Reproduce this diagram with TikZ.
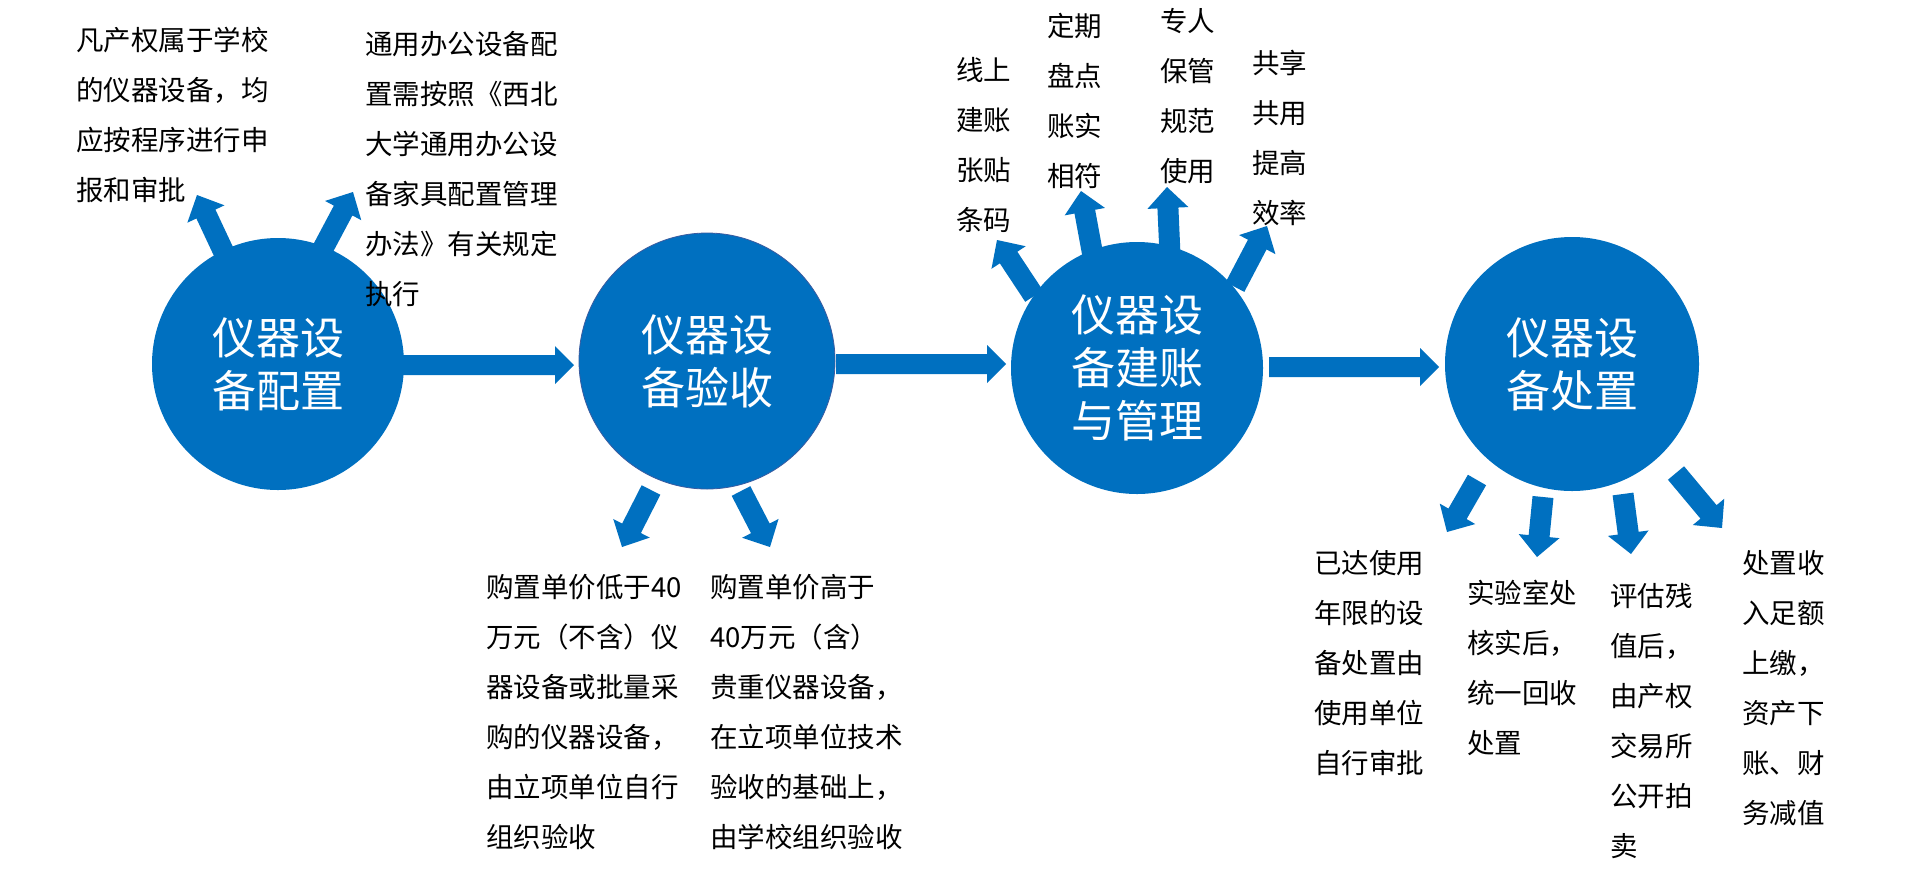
\documentclass[tikz,border=0pt]{standalone}
\usepackage{fontspec}
\setmainfont{Noto Sans CJK SC}
\usetikzlibrary{calc}
\definecolor{cblue}{HTML}{0070C0}
\definecolor{cedge}{HTML}{3A5BA0}
\newcommand\bodyfont{\fontsize{27.5}{50}\selectfont}
\newcommand\circfont{\fontsize{44}{53}\selectfont}
% block arrow: #1 half shaft, #2 half head, #3 head length, #4 base, #5 tip
\newcommand\barrow[5]{%
  \coordinate (hb) at ($(#5)!#3!(#4)$);
  \fill[arrfill] ($(#4)!#1!90:(#5)$) -- ($(hb)!#1!90:(#5)$) -- ($(hb)!#2!90:(#5)$) -- (#5)
    -- ($(hb)!#2!-90:(#5)$) -- ($(hb)!#1!-90:(#5)$) -- ($(#4)!#1!-90:(#5)$) -- cycle;}
\newcommand\txtblock[1]{\parbox[t]{12em}{\bodyfont #1}}
\begin{document}
\begin{tikzpicture}[x=1pt,y=-1pt,
  arrfill/.style={fill=cblue},
  circ/.style={circle,fill=cblue,inner sep=0pt,text=white,font=\circfont,align=center},
  txt/.style={anchor=base west,inner sep=0pt,text=black,font=\bodyfont}]
\fill[white] (0,0) rectangle (1920,879);
\useasboundingbox (0,0) rectangle (1920,879);

% arrow coordinates
\coordinate (a1b) at (227,259); \coordinate (a1t) at (197,195);
\coordinate (a2b) at (319,256); \coordinate (a2t) at (353,192);
\coordinate (b1b) at (651,490); \coordinate (b1t) at (622,547);
\coordinate (b2b) at (741,491); \coordinate (b2t) at (770,547);
\coordinate (c1b) at (1034,296); \coordinate (c1t) at (997,240);
\coordinate (c2b) at (1093,256); \coordinate (c2t) at (1081,191);
\coordinate (c3b) at (1170,255); \coordinate (c3t) at (1167,187);
\coordinate (c4b) at (1235,287); \coordinate (c4t) at (1267,226);
\coordinate (d1b) at (1477,480); \coordinate (d1t) at (1447,532);
\coordinate (d2b) at (1543,497); \coordinate (d2t) at (1537,557);
\coordinate (d3b) at (1623,494); \coordinate (d3t) at (1631,554);
\coordinate (d4b) at (1676,473); \coordinate (d4t) at (1722,528);
\coordinate (h1b) at (403,365); \coordinate (h1t) at (574,365);
\coordinate (h2b) at (836,364); \coordinate (h2t) at (1006,364);
\coordinate (h3b) at (1269,367); \coordinate (h3t) at (1439,367);

% radial arrows
\barrow{10.5pt}{20.5pt}{21pt}{a1b}{a1t}
\barrow{10.5pt}{20.5pt}{21pt}{a2b}{a2t}
\barrow{10.5pt}{20.5pt}{21pt}{b1b}{b1t}
\barrow{10.5pt}{20.5pt}{21pt}{b2b}{b2t}
\barrow{10.5pt}{20.5pt}{21pt}{c1b}{c1t}
\barrow{10.5pt}{20.5pt}{21pt}{c2b}{c2t}
\barrow{10.5pt}{20.5pt}{21pt}{c3b}{c3t}
\barrow{10.5pt}{20.5pt}{21pt}{c4b}{c4t}
\barrow{10.5pt}{20.5pt}{21pt}{d1b}{d1t}
\barrow{10.5pt}{20.5pt}{21pt}{d2b}{d2t}
\barrow{10.5pt}{20.5pt}{21pt}{d3b}{d3t}
\barrow{10.5pt}{20.5pt}{21pt}{d4b}{d4t}
% horizontal arrows
\barrow{10pt}{19pt}{19pt}{h1b}{h1t}
\barrow{10pt}{19pt}{19pt}{h2b}{h2t}
\barrow{10pt}{19pt}{19pt}{h3b}{h3t}

% circles
\node[circ,minimum size=252pt] (n1) at (278,364) {仪器设\\备配置};
\node[circ,minimum size=256pt,draw=cedge,line width=0.8pt] (n2) at (707,361) {仪器设\\备验收};
\node[circ,minimum size=252pt] (n3) at (1137,368) {仪器设\\备建账\\与管理};
\node[circ,minimum size=254pt] (n4) at (1572,364) {仪器设\\备处置};

% texts
\node[txt] (tA) at (76,50) {\txtblock{凡产权属于学校\\的仪器设备，均\\应按程序进行申\\报和审批}};
\node[txt] (tB) at (365,54) {\txtblock{通用办公设备配\\置需按照《西北\\大学通用办公设\\备家具配置管理\\办法》有关规定\\执行}};
\node[txt] (tC1) at (956,80) {\txtblock{线上\\建账\\张贴\\条码}};
\node[txt] (tC2) at (1047,36) {\txtblock{定期\\盘点\\账实\\相符}};
\node[txt] (tC3) at (1160,31) {\txtblock{专人\\保管\\规范\\使用}};
\node[txt] (tC4) at (1252,73) {\txtblock{共享\\共用\\提高\\效率}};
\node[txt] (tD1) at (486,597) {\txtblock{购置单价低于40\\万元（不含）仪\\器设备或批量采\\购的仪器设备，\\由立项单位自行\\组织验收}};
\node[txt] (tD2) at (710,597) {\txtblock{购置单价高于\\40万元（含）\\贵重仪器设备，\\在立项单位技术\\验收的基础上，\\由学校组织验收}};
\node[txt] (tE1) at (1314,573) {\txtblock{已达使用\\年限的设\\备处置由\\使用单位\\自行审批}};
\node[txt] (tE2) at (1467,603) {\txtblock{实验室处\\核实后，\\统一回收\\处置}};
\node[txt] (tE3) at (1610,606) {\txtblock{评估残\\值后，\\由产权\\交易所\\公开拍\\卖}};
\node[txt] (tE4) at (1742,573) {\txtblock{处置收\\入足额\\上缴，\\资产下\\账、财\\务减值}};
\end{tikzpicture}
\end{document}
